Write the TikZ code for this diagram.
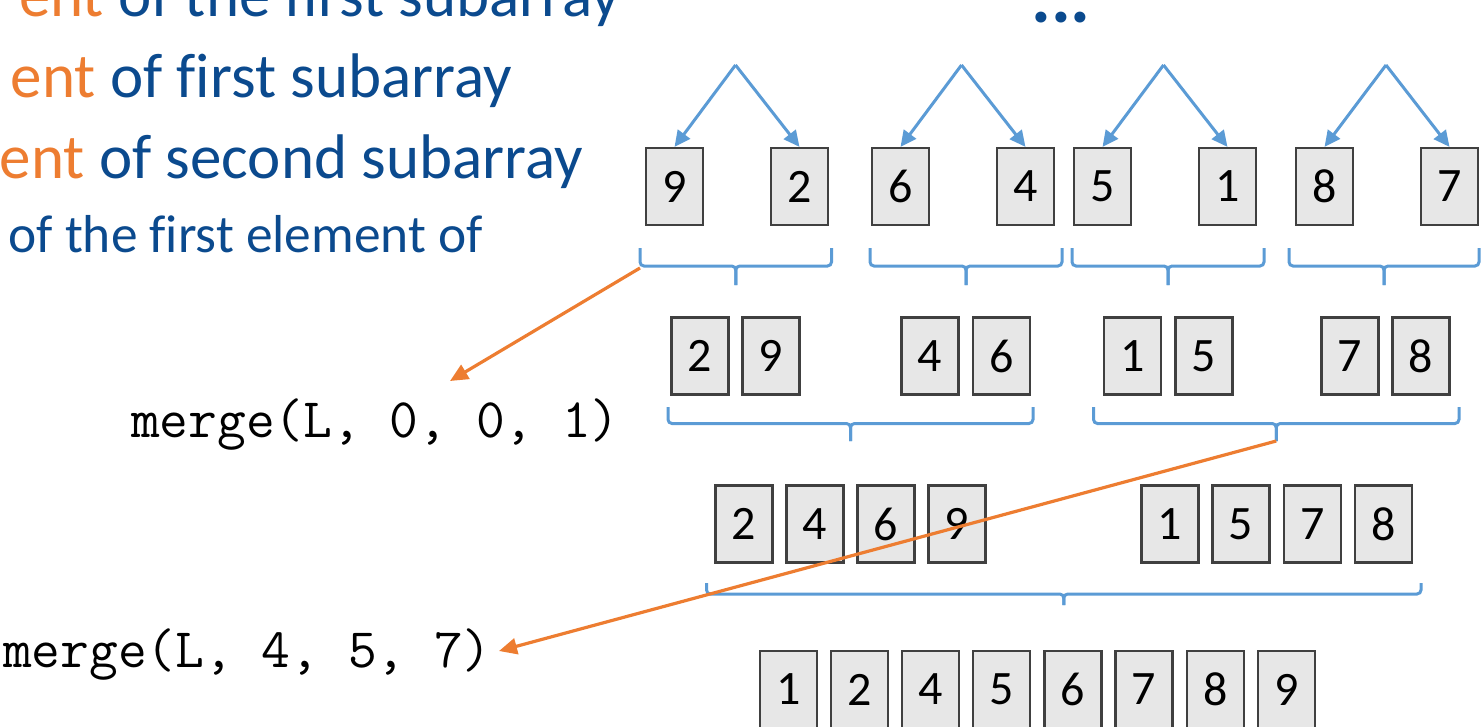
\documentclass[tikz,border=0pt]{standalone}
\usepackage{fontspec}
\setmainfont{Carlito}[Ligatures={NoCommon}]
\usetikzlibrary{arrows.meta}
\definecolor{txtblue}{HTML}{0B4A8E}
\definecolor{accorange}{HTML}{ED7D31}
\definecolor{accblue}{HTML}{5B9BD5}
\definecolor{cellfill}{HTML}{E7E7E7}
\definecolor{celledge}{HTML}{404040}
\tikzset{
  cell/.style={draw=celledge, fill=cellfill, line width=2.2pt, minimum width=57pt,
    minimum height=77pt, inner sep=0pt, font=\fontsize{48}{48}\selectfont},
  split/.style={draw=accblue, line width=3pt, -{Triangle[length=16pt,width=15pt]}},
  bracket/.style={draw=accblue, line width=3pt, rounded corners=4pt},
  callout/.style={draw=accorange, line width=3.2pt, -{Triangle[length=18pt,width=16pt]}},
  codetext/.style={font=\ttfamily\fontsize{55.8}{55.8}\selectfont, inner sep=0pt},
  bigtext/.style={font=\fontsize{63}{63}\selectfont, inner sep=0pt, text=txtblue},
}
\newcommand\ubrace[6]{%
  \coordinate (#1-l) at (#2,#5);
  \coordinate (#1-m) at ({(#2+#3)/2},#5);
  \coordinate (#1-tip) at ({(#2+#3)/2},#6);
  \draw[bracket] (#2,#4) -- (#1-l) -- (#1-m) -- (#1-tip);
  \draw[bracket] (#1-tip) -- (#1-m) -- (#3,#5) -- (#3,#4);
}
\begin{document}
\begin{tikzpicture}[x=1pt,y=-1pt]
\useasboundingbox (0,0) rectangle (1481,726);
% left text
\node[bigtext, anchor=base east] (l1) at (620,16) {\textcolor{accorange}{ent} of the first subarray};
\node[bigtext, anchor=base east] (l2) at (512,97) {\textcolor{accorange}{ent} of first subarray};
\node[bigtext, anchor=base east] (l3) at (583,178) {\textcolor{accorange}{ent} of second subarray};
\node[bigtext, font=\fontsize{53.4}{53.4}\selectfont, anchor=base east] (l4) at (483,252) {of the first element of};
\node[text=txtblue, font=\bfseries\fontsize{74}{74}\selectfont, anchor=base, inner sep=0pt] (dots) at (1061,22) {...};
\node[codetext, anchor=base west] (code1) at (131,437) {merge(L, 0, 0, 1)};
\node[codetext, anchor=base west] (code2) at (3,667) {merge(L, 4, 5, 7)};
% cells
\foreach \x/\v [count=\i] in {674.5/9,799.5/2,900.5/6,1025.5/4,1102.5/5,1227.5/1,1324.5/8,1449.5/7}
  \node[cell] (a\i) at (\x,186.5) {\v};
\foreach \x/\v [count=\i] in {700/2,771/9,930/4,1001.5/6,1132.5/1,1204/5,1350/7,1421/8}
  \node[cell] (b\i) at (\x,356) {\v};
\foreach \x/\v [count=\i] in {744/2,815/4,886/6,957/9,1170/1,1241/5,1312.5/7,1383.5/8}
  \node[cell] (c\i) at (\x,524) {\v};
\foreach \x/\v [count=\i] in {788.5/1,859.5/2,930.5/4,1001.5/5,1073/6,1144/7,1215.5/8,1286.5/9}
  \node[cell] (d\i) at (\x,689.5) {\v};
% split arrows
\coordinate (p1) at (735.5,65);
\coordinate (p2) at (961.5,65);
\coordinate (p3) at (1163.5,65);
\coordinate (p4) at (1386,65);
\draw[split] (p1) -- (a1.north);
\draw[split] (p1) -- (a2.north);
\draw[split] (p2) -- (a3.north);
\draw[split] (p2) -- (a4.north);
\draw[split] (p3) -- (a5.north);
\draw[split] (p3) -- (a6.north);
\draw[split] (p4) -- (a7.north);
\draw[split] (p4) -- (a8.north);
% braces
\ubrace{r1a}{640}{831.5}{248}{266}{285}
\ubrace{r1b}{870}{1062}{248}{266}{285}
\ubrace{r1c}{1072}{1264}{248}{266}{285}
\ubrace{r1d}{1289}{1479}{248}{266}{285}
\ubrace{r2a}{668}{1033}{407}{423.5}{441}
\ubrace{r2b}{1093.5}{1459}{407}{423.5}{441}
\ubrace{r3a}{706.5}{1421}{583}{594}{605}
% orange callouts
\coordinate (t1) at (450,381);
\coordinate (t2) at (499,651);
\draw[callout] ([yshift=-2pt]r1a-l) -- (t1);
\draw[callout] (r2b-tip) -- (t2);
\end{tikzpicture}
\end{document}
